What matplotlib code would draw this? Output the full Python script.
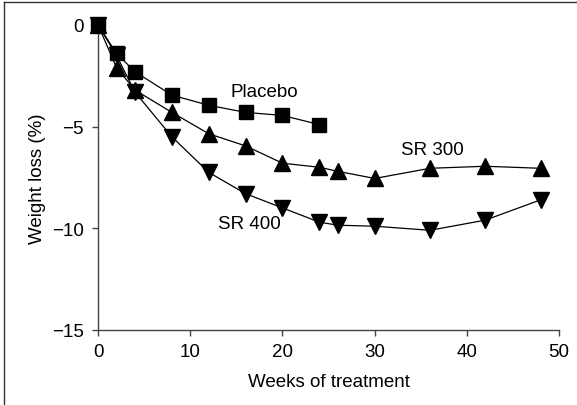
import matplotlib
matplotlib.use("Agg")
import matplotlib.pyplot as plt
from matplotlib.lines import Line2D

plt.rcParams['font.family'] = ['Liberation Sans', 'DejaVu Sans']

# weeks of treatment and mean weight loss (%) per group
weeks_placebo = [0, 2, 4, 8, 12, 16, 20, 24]
loss_placebo = [0, -1.4, -2.3, -3.45, -3.95, -4.3, -4.45, -4.9]

weeks_sr = [0, 2, 4, 8, 12, 16, 20, 24, 26, 30, 36, 42, 48]
loss_sr300 = [0, -2.1, -3.2, -4.3, -5.35, -5.95, -6.8, -7.0, -7.2, -7.55, -7.05, -6.95, -7.05]
loss_sr400 = [0, -1.5, -3.3, -5.5, -7.25, -8.3, -9.0, -9.7, -9.85, -9.9, -10.1, -9.6, -8.6]

x_ticks = [0, 10, 20, 30, 40, 50]
y_ticks = [0, -5, -10, -15]

fs = 13.5

fig = plt.figure(figsize=(5.77, 4.06), dpi=100)
ax = fig.add_axes([0.170, 0.185, 0.799, 0.751])

# outer frame of the figure (left and top edges visible)
fig.add_artist(Line2D([4 / 577, 4 / 577], [0, 1 - 3 / 406], transform=fig.transFigure, color='#333333', lw=1))
fig.add_artist(Line2D([4 / 577, 1], [1 - 3 / 406, 1 - 3 / 406], transform=fig.transFigure, color='#333333', lw=1))

ax.plot(weeks_sr, loss_sr400, color='black', lw=0.9, marker='v', ms=11, clip_on=False, zorder=3)
ax.plot(weeks_sr, loss_sr300, color='black', lw=0.9, marker='^', ms=11, clip_on=False, zorder=3)
ax.plot(weeks_placebo, loss_placebo, color='black', lw=0.9, marker='s', ms=9.5, clip_on=False, zorder=4)

ax.text(18.0, -3.25, 'Placebo', ha='center', va='center', fontsize=fs)
ax.text(36.3, -6.15, 'SR 300', ha='center', va='center', fontsize=fs)
ax.text(16.4, -9.75, 'SR 400', ha='center', va='center', fontsize=fs)

ax.set_xlim(0, 50)
ax.set_ylim(-15, 0)
ax.set_xticks(x_ticks)
ax.set_yticks(y_ticks)
ax.spines['top'].set_visible(False)
ax.spines['right'].set_visible(False)
for s in ['left', 'bottom']:
    ax.spines[s].set_color('#444444')
    ax.spines[s].set_linewidth(1)
ax.tick_params(direction='out', length=4.5, width=1, color='#444444', labelsize=fs)
ax.tick_params(axis='x', pad=5)
ax.tick_params(axis='y', pad=6)

ax.set_xlabel('Weeks of treatment', fontsize=fs, labelpad=9)
ax.set_ylabel('Weight loss (%)', fontsize=fs, labelpad=4)

fig.savefig('out.png', dpi=100)
